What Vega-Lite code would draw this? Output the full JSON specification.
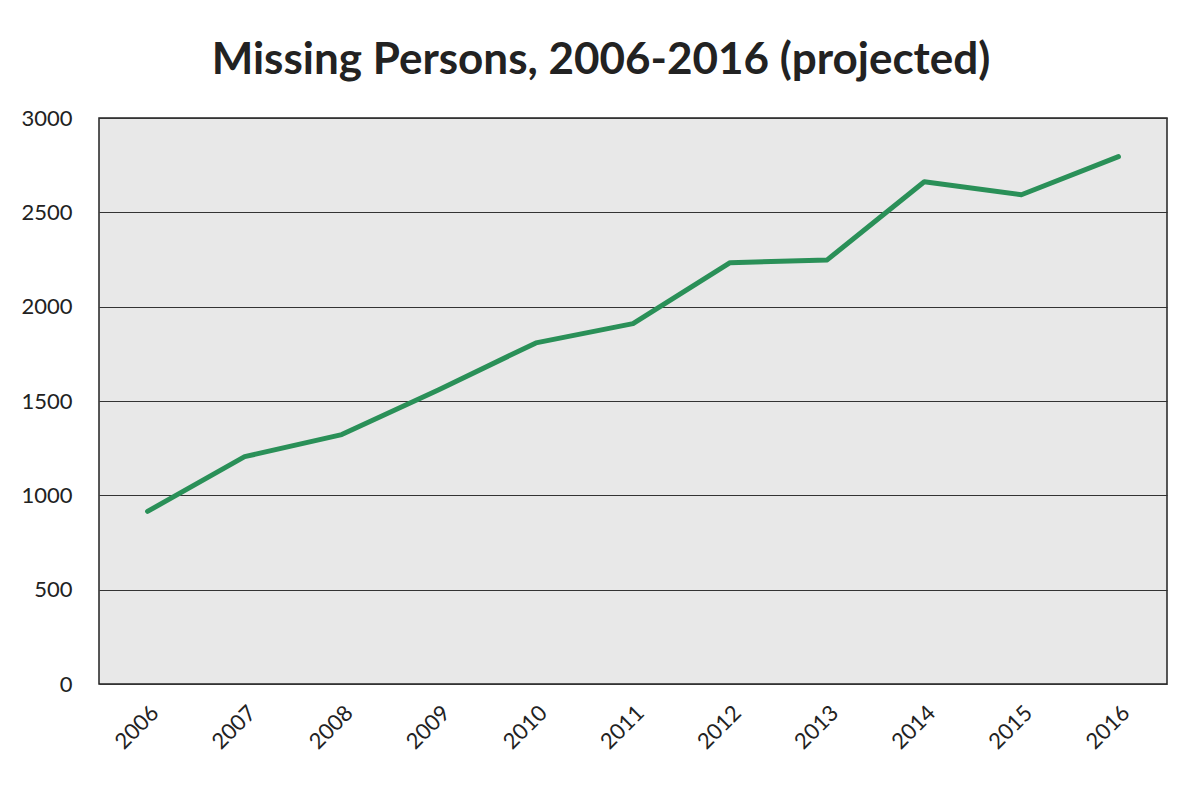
{
  "$schema": "https://vega.github.io/schema/vega-lite/v6.json",
  "autosize": {"type": "none"},
  "width": 1068,
  "height": 566,
  "padding": {"left": 99, "top": 118, "right": 31, "bottom": 101},
  "background": "white",
  "title": {
    "text": "Missing Persons, 2006-2016 (projected)",
    "font": "Lato",
    "fontSize": 44,
    "fontWeight": "bold",
    "color": "#222222",
    "anchor": "middle",
    "dx": -32,
    "offset": 24
  },
  "config": {
    "view": {"fill": "#e8e8e8", "stroke": "#222222", "strokeWidth": 1.5},
    "axis": {"labelFont": "Lato", "labelFontSize": 22, "labelColor": "#222222", "domain": false, "ticks": false, "title": null}
  },
  "data": {
    "values": [
      {"year": "2006", "persons": 915},
      {"year": "2007", "persons": 1205},
      {"year": "2008", "persons": 1322},
      {"year": "2009", "persons": 1560},
      {"year": "2010", "persons": 1808},
      {"year": "2011", "persons": 1910},
      {"year": "2012", "persons": 2233},
      {"year": "2013", "persons": 2248},
      {"year": "2014", "persons": 2662},
      {"year": "2015", "persons": 2593},
      {"year": "2016", "persons": 2795}
    ]
  },
  "mark": {"type": "line", "color": "#2a9058", "strokeWidth": 5, "strokeJoin": "round", "strokeCap": "round"},
  "encoding": {
    "x": {
      "field": "year",
      "type": "ordinal",
      "scale": {"type": "point", "padding": 0.5},
      "axis": {"labelAngle": -45, "labelPadding": 18, "grid": false}
    },
    "y": {
      "field": "persons",
      "type": "quantitative",
      "scale": {"domain": [0, 3000], "nice": false},
      "axis": {"values": [0, 500, 1000, 1500, 2000, 2500, 3000], "format": "d", "grid": true, "gridColor": "#333333", "gridWidth": 1, "gridOpacity": 1, "labelPadding": 27}
    }
  }
}
